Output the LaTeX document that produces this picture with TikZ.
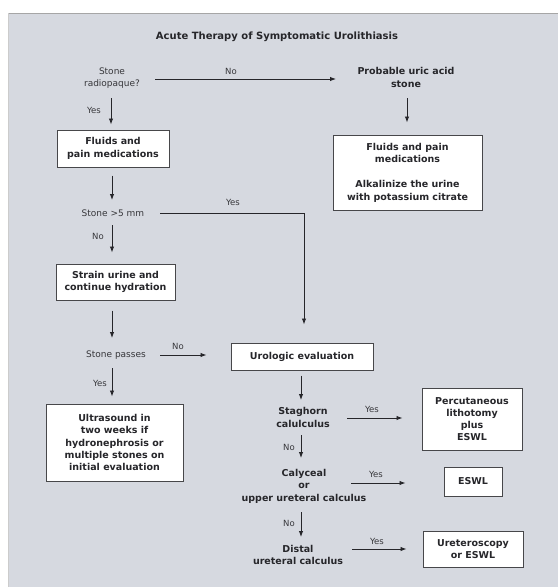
\documentclass[tikz,border=0pt]{standalone}
\usepackage{fontspec}
\setmainfont{DejaVu Sans}
\usetikzlibrary{arrows.meta}
\definecolor{panel}{RGB}{214,217,224}
\definecolor{ink}{RGB}{38,38,42}
\tikzset{
  boxnode/.style={draw=ink!85, line width=1pt, fill=white, align=center,
    font=\bfseries\fontsize{9.5}{12.5}\selectfont, text=ink, inner sep=0pt},
  qbold/.style={align=center, font=\bfseries\fontsize{9.5}{12.5}\selectfont, text=ink, inner sep=0pt},
  qplain/.style={align=center, font=\fontsize{9}{12.5}\selectfont, text=ink!92, inner sep=0pt},
  lbl/.style={font=\fontsize{8.5}{10}\selectfont, text=ink!92, inner sep=0pt},
  arr/.style={draw=ink, line width=0.9pt, -{Latex[length=6pt,width=4.5pt]}},
}
\begin{document}
\begin{tikzpicture}[x=1pt,y=-1pt]
\useasboundingbox (0,0) rectangle (558,587);
\fill[white] (0,0) rectangle (558,587);
\fill[panel] (8,13) rectangle (558,587);
\draw[black!35, line width=1pt] (8,13.5) -- (558,13.5);
\draw[black!20, line width=0.8pt] (8.5,13) -- (8.5,587);

\node[font=\bfseries\fontsize{10}{12}\selectfont, text=ink, inner sep=0pt] (title) at (277,37) {Acute Therapy of Symptomatic Urolithiasis};

% left column
\node[qplain] (q1) at (112,78) {Stone\\radiopaque?};
\node[boxnode, minimum width=112pt, minimum height=37pt] (box1) at (113,148.5) {Fluids and\\pain medications};
\node[qplain] (q2) at (113,213) {Stone >5 mm};
\node[boxnode, minimum width=119pt, minimum height=36pt] (box2) at (115.5,282) {Strain urine and\\continue hydration};
\node[qplain] (q3) at (116,355) {Stone passes};
\node[boxnode, minimum width=137pt, minimum height=77pt, font=\bfseries\fontsize{9.5}{12.2}\selectfont] (box3) at (114.5,442.5) {Ultrasound in\\two weeks if\\hydronephrosis or\\multiple stones on\\initial evaluation};

% right top
\node[qbold] (uric) at (406,77.5) {Probable uric acid\\stone};
\node[boxnode, minimum width=149pt, minimum height=75pt] (boxR) at (407.5,172.5) {Fluids and pain\\medications\\[12.5pt]Alkalinize the urine\\with potassium citrate};

% middle/right bottom
\node[boxnode, minimum width=142pt, minimum height=27pt] (uro) at (302,356.5) {Urologic evaluation};
\node[qbold] (q4) at (303,417.5) {Staghorn\\calulculus};
\node[boxnode, minimum width=100pt, minimum height=62pt, font=\bfseries\fontsize{9.5}{12}\selectfont] (pcn) at (472,419) {Percutaneous\\lithotomy\\plus\\ESWL};
\node[qbold] (q5) at (304,486) {Calyceal\\or\\upper ureteral calculus};
\node[boxnode, minimum width=58pt, minimum height=29pt] (eswl) at (473,481.5) {ESWL};
\node[qbold] (q6) at (298,555) {Distal\\ureteral calculus};
\node[boxnode, minimum width=100pt, minimum height=36pt] (uret) at (473,549) {Ureteroscopy\\or ESWL};

% connectors
\draw[arr] ([xshift=43pt,yshift=-1pt]q1.center) -- ([xshift=-70pt,yshift=-1.5pt]uric.center);
\draw[arr, shorten >=5pt] ([xshift=-1pt,yshift=-20pt]q1.center) -- ([xshift=-2pt]box1.north);
\draw[arr, shorten <=8pt] ([xshift=-1pt]box1.south) -- ([xshift=-1pt,yshift=13pt]q2.center);
\draw[arr, shorten >=11pt] ([xshift=-1pt,yshift=-12pt]q2.center) -- ([xshift=-3.5pt]box2.north);
\draw[arr, shorten <=10pt] ([xshift=-3.5pt]box2.south) -- ([xshift=-4pt,yshift=17pt]q3.center);
\draw[arr, shorten >=7pt] ([xshift=-4pt,yshift=-13pt]q3.center) -- ([xshift=-2.5pt]box3.north);
\draw[arr, shorten >=18pt] ([xshift=47pt]q2.center) -| ([xshift=2pt]uro.north);
\draw[arr, shorten >=24pt] ([xshift=44pt]q3.center) -- ([yshift=1.5pt]uro.west);
\draw[arr, shorten >=12pt] ([xshift=1pt,yshift=-20.5pt]uric.center) -- ([xshift=-0.5pt]boxR.north);
\draw[arr, shorten <=5pt] ([xshift=-1pt]uro.south) -- ([xshift=-2pt,yshift=17.5pt]q4.center);
\draw[arr, shorten >=19pt] ([xshift=44pt,yshift=-0.5pt]q4.center) -- ([yshift=1pt]pcn.west);
\draw[arr] ([xshift=-2pt,yshift=-17.5pt]q4.center) -- ([xshift=-3pt,yshift=28pt]q5.center);
\draw[arr, shorten >=38pt] ([xshift=47pt,yshift=3pt]q5.center) -- ([yshift=-1.5pt]eswl.west);
\draw[arr] ([xshift=-3pt,yshift=-26pt]q5.center) -- ([xshift=3pt,yshift=18pt]q6.center);
\draw[arr, shorten >=16pt] ([xshift=54pt,yshift=6pt]q6.center) -- (uret.west);

% labels
\node[lbl] (l1) at (231,71) {No};
\node[lbl] (l2) at (94,110) {Yes};
\node[lbl] (l3) at (233,202) {Yes};
\node[lbl] (l4) at (98,236) {No};
\node[lbl] (l5) at (178,346) {No};
\node[lbl] (l6) at (100,383) {Yes};
\node[lbl] (l7) at (372,409) {Yes};
\node[lbl] (l8) at (289,447) {No};
\node[lbl] (l9) at (376,474) {Yes};
\node[lbl] (l10) at (289,523) {No};
\node[lbl] (l11) at (377,541) {Yes};
\end{tikzpicture}
\end{document}
